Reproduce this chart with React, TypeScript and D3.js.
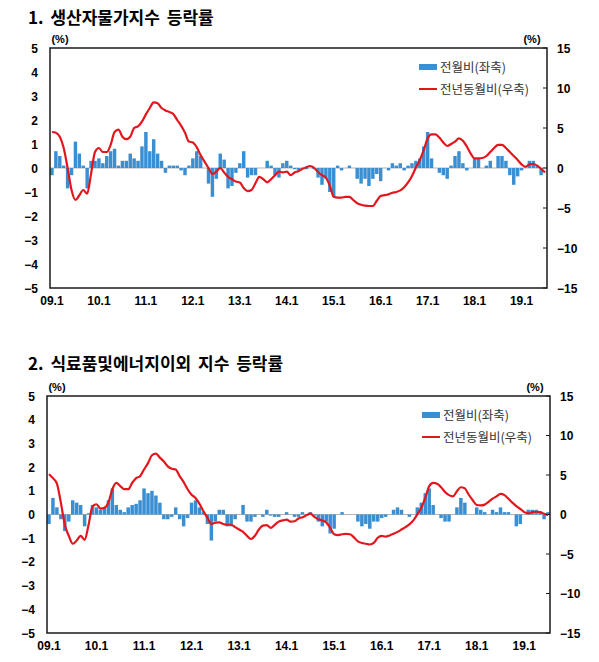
import React from "react";
import * as d3 from "d3";

// month categories 09.1 .. 19.7
const months: string[] = [];
for (let y = 9; y <= 19; y++) {
  for (let m = 1; m <= 12; m++) {
    if (y === 19 && m > 7) break;
    months.push(`${String(y).padStart(2, "0")}.${m}`);
  }
}
const xTickLabels = ["09.1", "10.1", "11.1", "12.1", "13.1", "14.1", "15.1", "16.1", "17.1", "18.1", "19.1"];
const leftTicks = [5, 4, 3, 2, 1, 0, -1, -2, -3, -4, -5];
const rightTicks = [15, 10, 5, 0, -5, -10, -15];

// 1. 생산자물가지수 : 전월비 (좌축)
const ppiMom = [
  -0.3, 0.7, 0.5, 0.1, -0.85, -0.3, 1.1, 0.6, 0.1, -0.85, 0.3, 0.3,
  0.4, 0.2, 0.5, 0.7, 0.8, 0.1, 0.3, 0.3, 0.6, 0.4, 0.3, 0.9,
  1.5, 0.7, 1.2, 0.6, 0.3, -0.2, 0.1, 0.1, 0.1, -0.1, -0.3, 0.1,
  0.4, 0.7, 0.5, 0.0, -0.65, -1.2, -0.45, 0.6, 0.35, -0.85, -0.75, -0.2,
  0.2, 0.7, -0.4, -0.3, -0.3, 0.0, 0.0, 0.3, 0.1, -0.3, -0.4, 0.2,
  0.3, 0.1, -0.05, -0.1, 0.0, -0.05, 0.0, -0.05, -0.4, -0.7, -0.45, -1.0,
  -1.2, 0.1, -0.1, 0.0, 0.1, 0.0, -0.45, -0.65, -0.45, -0.75, -0.45, -0.25,
  -0.55, 0.0, -0.1, 0.2, 0.1, 0.2, -0.1, 0.1, 0.2, 0.3, 0.4, 0.9,
  1.5, 0.4, 0.0, -0.2, -0.3, -0.45, 0.1, 0.5, 0.7, 0.2, -0.1, 0.0,
  0.4, 0.4, 0.0, 0.1, 0.3, 0.0, 0.5, 0.5, 0.3, -0.3, -0.7, -0.35,
  -0.1, 0.0, 0.3, 0.3, 0.1, -0.3, 0.0,
];
// 1. 생산자물가지수 : 전년동월비 (우축)
const ppiYoy = [
  4.5, 4.4, 3.9, 2.5, 0.0, -2.75, -4.0, -3.4, -2.75, -3.2, -0.7, 2.0,
  2.5, 2.0, 2.0, 2.9, 4.5, 4.8, 3.9, 3.6, 3.9, 5.0, 5.2, 5.8,
  6.7, 7.5, 8.2, 8.1, 7.5, 7.2, 7.0, 6.75, 6.0, 5.3, 4.4, 3.3,
  3.2, 2.6, 1.6, 0.8, 0.0, -0.75, -0.45, 0.0, -0.55, -1.1, -1.4, -1.7,
  -1.8, -2.5, -2.9, -2.75, -1.9, -1.1, -1.4, -1.8, -1.4, -0.9, -0.45, -0.55,
  -0.45, -0.9, -0.55, -0.4, -0.1, 0.1, 0.25, 0.0, -0.5, -0.9, -1.2, -2.2,
  -3.6, -3.7, -3.7, -3.6, -3.6, -4.0, -4.4, -4.6, -4.7, -4.75, -4.75, -4.1,
  -3.5, -3.4, -3.3, -3.1, -3.0, -2.8, -2.4, -1.8, -1.0, 0.05, 1.0, 2.25,
  3.7, 4.2, 4.2, 3.8, 3.2, 2.75, 3.0, 3.3, 3.7, 3.4, 2.7, 1.8,
  1.2, 1.2, 1.25, 1.5, 2.0, 2.5, 2.9, 2.9, 2.5, 2.0, 1.5, 1.0,
  0.45, 0.15, 0.45, 0.5, 0.3, -0.1, -0.55,
];
// 2. 식료품및에너지이외 : 전월비 (좌축)
const coreMom = [
  -0.4, 0.7, 0.3, -0.2, -0.7, -0.3, 0.6, 0.5, 0.4, -0.5, 0.05, 0.4,
  0.3, 0.2, 0.3, 0.6, 1.1, 0.4, 0.2, 0.1, 0.3, 0.4, 0.45, 0.6,
  1.1, 0.9, 1.0, 0.8, 0.5, -0.2, -0.2, -0.1, 0.3, -0.2, -0.5, -0.15,
  0.5, 0.6, 0.3, 0.1, -0.4, -1.1, -0.3, 0.2, 0.2, -0.5, -0.5, -0.2,
  0.0, 0.4, -0.3, -0.3, -0.1, 0.0, -0.1, 0.2, -0.05, -0.1, -0.1, 0.0,
  0.1, 0.0, -0.1, -0.1, 0.1, 0.0, 0.1, -0.05, -0.3, -0.5, -0.3, -0.8,
  -0.6, 0.0, 0.1, 0.0, 0.0, 0.0, -0.3, -0.5, -0.4, -0.6, -0.3, -0.3,
  -0.15, -0.1, 0.0, 0.2, 0.3, 0.2, 0.0, -0.1, 0.0, 0.3, 0.5, 0.9,
  1.1, 0.4, 0.0, -0.15, -0.3, -0.3, 0.0, 0.3, 0.7, 0.5, 0.0, 0.0,
  0.3, 0.2, 0.1, 0.0, 0.2, 0.1, 0.3, 0.1, 0.1, 0.0, -0.5, -0.4,
  0.0, 0.2, 0.2, 0.2, 0.1, -0.2, 0.1,
];
// 2. 식료품및에너지이외 : 전년동월비 (우축)
const coreYoy = [
  5.1, 4.6, 3.9, 1.5, -1.3, -2.7, -3.7, -3.3, -2.7, -3.2, -1.3, 1.05,
  1.3, 0.75, 0.85, 1.5, 3.2, 4.0, 3.6, 3.2, 3.2, 4.0, 4.6, 4.85,
  5.7, 6.5, 7.5, 7.7, 7.2, 6.7, 6.1, 5.8, 5.7, 4.85, 4.1, 3.2,
  2.5, 2.1, 1.35, 0.4, -0.4, -1.2, -1.05, -1.0, -1.2, -1.3, -1.3, -1.6,
  -1.9, -2.2, -2.7, -3.1, -2.7, -1.9, -1.4, -1.35, -1.7, -1.3, -0.9, -0.75,
  -0.65, -0.9, -0.85, -0.5, -0.35, -0.1, 0.1, -0.3, -0.6, -0.75, -1.0, -1.7,
  -2.5, -2.6, -2.5, -2.45, -2.5, -2.9, -3.4, -3.6, -3.7, -3.8, -3.6, -2.95,
  -2.7, -2.8, -2.65, -2.45, -2.2, -1.9, -1.6, -1.25, -0.75, 0.0, 0.85, 2.1,
  3.6, 4.0, 3.9, 3.45, 2.85, 2.45, 2.3, 2.95, 3.45, 3.3, 2.5, 1.8,
  1.2, 1.15, 1.25, 1.6, 2.0, 2.3, 2.6, 2.45, 2.0, 1.5, 1.05, 0.7,
  0.3, 0.15, 0.3, 0.35, 0.3, 0.1, -0.1,
];

const BLUE = "#3a8fd2";
const RED = "#e3161d";
const LABEL_FONT = "'Liberation Sans', Arial, sans-serif";
const KO_FONT = "'Noto Sans CJK KR', sans-serif";
const fmt = (v: number) => (v < 0 ? `\u2212${-v}` : `${v}`);

interface PanelProps {
  title: string;
  titleY: number;
  left: number;
  right: number;
  top: number;
  bottom: number;
  bars: number[];
  line: number[];
}

const Panel: React.FC<PanelProps> = ({ title, titleY, left, right, top, bottom, bars, line }) => {
  const x = d3.scaleBand<string>().domain(months).range([left, right]).paddingInner(0.12).paddingOuter(0.06);
  const yL = d3.scaleLinear().domain([-5, 5]).range([bottom, top]);
  const yR = d3.scaleLinear().domain([-15, 15]).range([bottom, top]);
  const bw = x.bandwidth();
  const cx = (i: number) => (x(months[i]) as number) + bw / 2;

  const path = d3.line<number>()
    .x((_, i) => cx(i))
    .y((d) => yR(d))
    .curve(d3.curveMonotoneX)(line) as string;

  const legX = right - 128;

  return (
    <g>
      <text x={28} y={titleY} fontFamily={KO_FONT} fontWeight={700} fontSize={17} wordSpacing={3} fill="#000">{title}</text>
      <text x={left + 10} y={top - 5} fontFamily={LABEL_FONT} fontWeight={700} fontSize={11} textAnchor="middle">(%)</text>
      <text x={right - 15} y={top - 5} fontFamily={LABEL_FONT} fontWeight={700} fontSize={11} textAnchor="middle">(%)</text>

      {/* zero line */}
      <line x1={left} x2={right} y1={yL(0)} y2={yL(0)} stroke="#b4b4b4" strokeWidth={1} />

      {bars.map((v, i) => (
        <rect key={i} x={x(months[i])} width={bw}
          y={Math.min(yL(v), yL(0))} height={Math.abs(yL(v) - yL(0))} fill={BLUE} />
      ))}

      <path d={path} fill="none" stroke={RED} strokeWidth={2.2} strokeLinejoin="round" />

      {/* frame */}
      <rect x={left} y={top} width={right - left} height={bottom - top} fill="none" stroke="#1a1a1a" strokeWidth={1.5} />

      {leftTicks.map((t) => (
        <text key={t} x={left - 12} y={yL(t) + 4.5} textAnchor="end" fontFamily={LABEL_FONT} fontWeight={700} fontSize={12}>{fmt(t)}</text>
      ))}
      {rightTicks.map((t) => (
        <g key={t}>
          <line x1={right - 4} x2={right} y1={yR(t)} y2={yR(t)} stroke="#1a1a1a" strokeWidth={1} />
          <text x={right + 10} y={yR(t) + 4.5} fontFamily={LABEL_FONT} fontWeight={700} fontSize={12}>{fmt(t)}</text>
        </g>
      ))}
      {xTickLabels.map((t) => (
        <text key={t} x={cx(months.indexOf(t))} y={bottom + 17} textAnchor="middle" fontFamily={LABEL_FONT} fontWeight={700} fontSize={12}>{t}</text>
      ))}

      {/* legend */}
      <rect x={legX} y={top + 16} width={18} height={6} fill={BLUE} />
      <text x={legX + 21} y={top + 23.5} fontFamily={KO_FONT} fontSize={12.5} fill="#333">전월비(좌축)</text>
      <line x1={legX} x2={legX + 18} y1={top + 41} y2={top + 41} stroke={RED} strokeWidth={2} />
      <text x={legX + 21} y={top + 45.5} fontFamily={KO_FONT} fontSize={12.5} fill="#333">전년동월비(우축)</text>
    </g>
  );
};

export default function App() {
  return (
    <svg width={599} height={662} style={{ position: "absolute", left: 0, top: 0, background: "#fff" }}>
      <rect width={599} height={662} fill="#fff" />
      <Panel title="1. 생산자물가지수 등락률" titleY={24} left={50} right={547} top={48} bottom={288} bars={ppiMom} line={ppiYoy} />
      <Panel title="2. 식료품및에너지이외 지수 등락률" titleY={370} left={47} right={550} top={396} bottom={633} bars={coreMom} line={coreYoy} />
    </svg>
  );
}
